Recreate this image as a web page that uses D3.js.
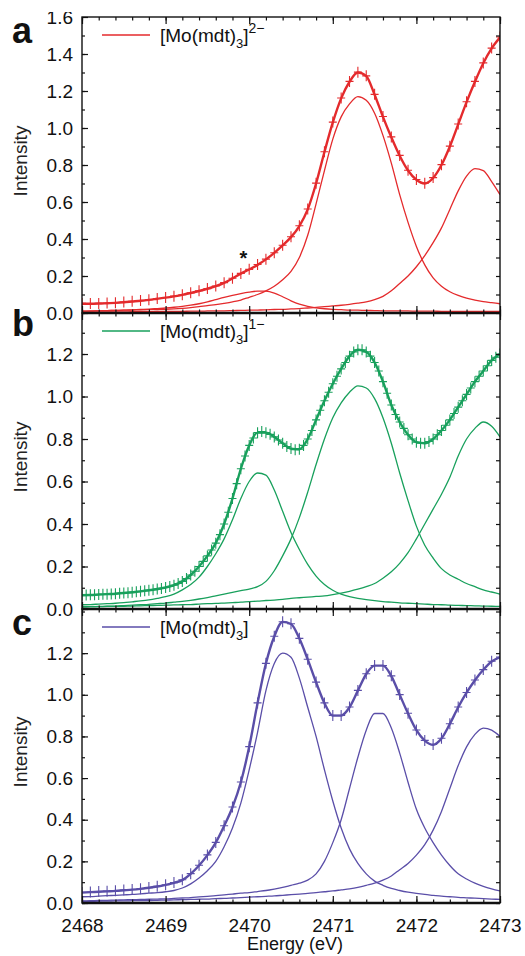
<!DOCTYPE html>
<html>
<head>
<meta charset="utf-8">
<script src="https://cdn.jsdelivr.net/npm/d3@7"></script>
<style>
  body { margin: 0; background: #fff; }
  svg { display: block; font-family: "Liberation Sans", Arial, sans-serif; }
</style>
</head>
<body>
<div id="viz"></div>
<script>
// ---- data ----
// energy grid of the fit curves and of the markers in panels a and c (eV)
const energy = [
  2468.0, 2468.1, 2468.2, 2468.3, 2468.4, 2468.5, 2468.6, 2468.7, 2468.8, 2468.9,
  2469.0, 2469.1, 2469.2, 2469.3, 2469.4, 2469.5, 2469.6, 2469.7, 2469.8, 2469.9,
  2470.0, 2470.1, 2470.2, 2470.3, 2470.4, 2470.5, 2470.6, 2470.7, 2470.8, 2470.9,
  2471.0, 2471.1, 2471.2, 2471.3, 2471.4, 2471.5, 2471.6, 2471.7, 2471.8, 2471.9,
  2472.0, 2472.1, 2472.2, 2472.3, 2472.4, 2472.5, 2472.6, 2472.7, 2472.8, 2472.9,
  2473.0
];
// finer grid of the (dense) markers in panel b
const energyFine = [
  2468.00, 2468.05, 2468.10, 2468.15, 2468.20, 2468.25, 2468.30, 2468.35, 2468.40, 2468.45,
  2468.50, 2468.55, 2468.60, 2468.65, 2468.70, 2468.75, 2468.80, 2468.85, 2468.90, 2468.95,
  2469.00, 2469.05, 2469.10, 2469.15, 2469.20, 2469.25, 2469.30, 2469.35, 2469.40, 2469.45,
  2469.50, 2469.55, 2469.60, 2469.65, 2469.70, 2469.75, 2469.80, 2469.85, 2469.90, 2469.95,
  2470.00, 2470.05, 2470.10, 2470.15, 2470.20, 2470.25, 2470.30, 2470.35, 2470.40, 2470.45,
  2470.50, 2470.55, 2470.60, 2470.65, 2470.70, 2470.75, 2470.80, 2470.85, 2470.90, 2470.95,
  2471.00, 2471.05, 2471.10, 2471.15, 2471.20, 2471.25, 2471.30, 2471.35, 2471.40, 2471.45,
  2471.50, 2471.55, 2471.60, 2471.65, 2471.70, 2471.75, 2471.80, 2471.85, 2471.90, 2471.95,
  2472.00, 2472.05, 2472.10, 2472.15, 2472.20, 2472.25, 2472.30, 2472.35, 2472.40, 2472.45,
  2472.50, 2472.55, 2472.60, 2472.65, 2472.70, 2472.75, 2472.80, 2472.85, 2472.90, 2472.95,
  2473.00
];

// panel a : [Mo(mdt)3]2-
const dataA = [
  0.052, 0.051, 0.052, 0.054, 0.056, 0.059, 0.063, 0.067, 0.072, 0.078,
  0.084, 0.091, 0.099, 0.109, 0.120, 0.132, 0.146, 0.164, 0.188, 0.214,
  0.236, 0.262, 0.291, 0.326, 0.366, 0.412, 0.472, 0.562, 0.702, 0.872,
  1.032, 1.162, 1.252, 1.302, 1.282, 1.182, 1.062, 0.952, 0.852, 0.772,
  0.722, 0.702, 0.732, 0.802, 0.902, 1.022, 1.142, 1.252, 1.352, 1.432,
  1.492
];
const fitA = [
  0.050, 0.050, 0.051, 0.053, 0.055, 0.058, 0.062, 0.066, 0.071, 0.077,
  0.083, 0.090, 0.098, 0.108, 0.119, 0.131, 0.145, 0.163, 0.187, 0.213,
  0.235, 0.260, 0.290, 0.325, 0.365, 0.410, 0.470, 0.560, 0.700, 0.870,
  1.030, 1.160, 1.250, 1.300, 1.280, 1.180, 1.060, 0.950, 0.850, 0.770,
  0.720, 0.700, 0.730, 0.800, 0.900, 1.020, 1.140, 1.250, 1.350, 1.430,
  1.490
];
const peakA1 = [
  0.010, 0.010, 0.012, 0.013, 0.014, 0.015, 0.017, 0.019, 0.021, 0.024,
  0.027, 0.031, 0.036, 0.042, 0.050, 0.060, 0.072, 0.084, 0.095, 0.105,
  0.113, 0.118, 0.118, 0.108, 0.088, 0.066, 0.048, 0.036, 0.028, 0.023,
  0.020, 0.018, 0.016, 0.015, 0.014, 0.013, 0.012, 0.012, 0.011, 0.011,
  0.010, 0.010, 0.010, 0.009, 0.009, 0.009, 0.008, 0.008, 0.008, 0.008,
  0.008
];
const peakA2 = [
  0.010, 0.011, 0.012, 0.013, 0.014, 0.015, 0.016, 0.017, 0.018, 0.019,
  0.020, 0.022, 0.025, 0.029, 0.034, 0.040, 0.045, 0.052, 0.060, 0.070,
  0.085, 0.100, 0.120, 0.145, 0.180, 0.225, 0.300, 0.420, 0.590, 0.770,
  0.940, 1.060, 1.130, 1.170, 1.150, 1.080, 0.960, 0.810, 0.640, 0.490,
  0.360, 0.260, 0.190, 0.145, 0.115, 0.095, 0.080, 0.070, 0.062, 0.056,
  0.050
];
const peakA3 = [
  0.005, 0.005, 0.005, 0.006, 0.006, 0.006, 0.007, 0.007, 0.007, 0.008,
  0.008, 0.009, 0.009, 0.010, 0.010, 0.011, 0.012, 0.012, 0.013, 0.014,
  0.015, 0.016, 0.017, 0.019, 0.020, 0.022, 0.024, 0.027, 0.030, 0.034,
  0.038, 0.042, 0.047, 0.053, 0.060, 0.072, 0.090, 0.120, 0.160, 0.200,
  0.250, 0.310, 0.380, 0.460, 0.560, 0.660, 0.740, 0.780, 0.770, 0.710,
  0.640
];

// panel b : [Mo(mdt)3]1-
const dataB = [
  0.066, 0.066, 0.067, 0.067, 0.068, 0.069, 0.070, 0.071, 0.072, 0.074,
  0.075, 0.077, 0.079, 0.081, 0.083, 0.086, 0.088, 0.091, 0.094, 0.097,
  0.101, 0.106, 0.112, 0.120, 0.130, 0.143, 0.160, 0.178, 0.200, 0.224,
  0.250, 0.278, 0.310, 0.350, 0.400, 0.455, 0.520, 0.590, 0.660, 0.720,
  0.770, 0.805, 0.830, 0.835, 0.830, 0.822, 0.810, 0.795, 0.780, 0.765,
  0.755, 0.750, 0.752, 0.770, 0.800, 0.840, 0.890, 0.935, 0.980, 1.020,
  1.060, 1.095, 1.130, 1.160, 1.190, 1.210, 1.220, 1.220, 1.210, 1.190,
  1.160, 1.120, 1.070, 1.015, 0.960, 0.915, 0.880, 0.850, 0.820, 0.800,
  0.785, 0.780, 0.780, 0.788, 0.800, 0.820, 0.840, 0.865, 0.890, 0.920,
  0.950, 0.980, 1.010, 1.040, 1.070, 1.095, 1.120, 1.145, 1.170, 1.185,
  1.200
];
const fitB = [
  0.065, 0.066, 0.068, 0.070, 0.072, 0.075, 0.079, 0.083, 0.088, 0.094,
  0.101, 0.112, 0.130, 0.160, 0.200, 0.250, 0.310, 0.400, 0.520, 0.660,
  0.770, 0.830, 0.830, 0.810, 0.780, 0.755, 0.752, 0.800, 0.890, 0.980,
  1.060, 1.130, 1.190, 1.220, 1.210, 1.160, 1.070, 0.960, 0.880, 0.820,
  0.785, 0.780, 0.800, 0.840, 0.890, 0.950, 1.010, 1.070, 1.120, 1.170,
  1.200
];
const peakB1 = [
  0.020, 0.021, 0.023, 0.025, 0.027, 0.030, 0.034, 0.038, 0.043, 0.050,
  0.058, 0.070, 0.090, 0.115, 0.150, 0.200, 0.260, 0.330, 0.420, 0.520,
  0.600, 0.640, 0.630, 0.560, 0.460, 0.360, 0.280, 0.210, 0.155, 0.115,
  0.088, 0.070, 0.058, 0.050, 0.044, 0.039, 0.035, 0.032, 0.029, 0.027,
  0.025, 0.023, 0.021, 0.020, 0.018, 0.017, 0.016, 0.015, 0.014, 0.013,
  0.012
];
const peakB2 = [
  0.010, 0.011, 0.012, 0.013, 0.014, 0.016, 0.018, 0.020, 0.022, 0.025,
  0.028, 0.032, 0.036, 0.041, 0.047, 0.054, 0.062, 0.070, 0.078, 0.086,
  0.094, 0.105, 0.130, 0.180, 0.250, 0.330, 0.430, 0.550, 0.680, 0.800,
  0.900, 0.970, 1.020, 1.050, 1.040, 0.990, 0.900, 0.780, 0.640, 0.510,
  0.390, 0.300, 0.240, 0.190, 0.160, 0.140, 0.120, 0.105, 0.090, 0.080,
  0.070
];
const peakB3 = [
  0.010, 0.011, 0.011, 0.012, 0.012, 0.013, 0.014, 0.015, 0.016, 0.017,
  0.018, 0.019, 0.020, 0.021, 0.023, 0.025, 0.026, 0.028, 0.030, 0.032,
  0.035, 0.037, 0.040, 0.042, 0.045, 0.050, 0.053, 0.056, 0.059, 0.062,
  0.068, 0.075, 0.083, 0.093, 0.105, 0.120, 0.145, 0.175, 0.215, 0.265,
  0.330, 0.400, 0.470, 0.540, 0.620, 0.720, 0.800, 0.850, 0.880, 0.860,
  0.810
];

// panel c : [Mo(mdt)3]
const dataC = [
  0.051, 0.053, 0.055, 0.057, 0.059, 0.062, 0.065, 0.069, 0.074, 0.080,
  0.088, 0.098, 0.112, 0.141, 0.181, 0.231, 0.291, 0.371, 0.461, 0.581,
  0.751, 0.961, 1.151, 1.281, 1.351, 1.341, 1.271, 1.171, 1.061, 0.961,
  0.901, 0.901, 0.941, 1.021, 1.101, 1.141, 1.141, 1.091, 1.001, 0.911,
  0.831, 0.781, 0.761, 0.791, 0.861, 0.941, 1.011, 1.071, 1.121, 1.161,
  1.181
];
const fitC = [
  0.050, 0.052, 0.054, 0.056, 0.058, 0.061, 0.064, 0.068, 0.073, 0.079,
  0.087, 0.097, 0.110, 0.140, 0.180, 0.230, 0.290, 0.370, 0.460, 0.580,
  0.750, 0.960, 1.150, 1.280, 1.350, 1.340, 1.270, 1.170, 1.060, 0.960,
  0.900, 0.900, 0.940, 1.020, 1.100, 1.140, 1.140, 1.090, 1.000, 0.910,
  0.830, 0.780, 0.760, 0.790, 0.860, 0.940, 1.010, 1.070, 1.120, 1.160,
  1.180
];
const peakC1 = [
  0.030, 0.031, 0.033, 0.035, 0.037, 0.039, 0.041, 0.044, 0.047, 0.050,
  0.054, 0.060, 0.072, 0.092, 0.120, 0.155, 0.200, 0.270, 0.360, 0.480,
  0.640, 0.820, 1.020, 1.150, 1.200, 1.180, 1.080, 0.940, 0.800, 0.640,
  0.490, 0.360, 0.260, 0.190, 0.140, 0.105, 0.085, 0.070, 0.060, 0.052,
  0.046, 0.041, 0.037, 0.033, 0.030, 0.027, 0.025, 0.023, 0.021, 0.019,
  0.017
];
const peakC2 = [
  0.010, 0.011, 0.012, 0.013, 0.014, 0.015, 0.016, 0.017, 0.018, 0.019,
  0.020, 0.022, 0.024, 0.026, 0.029, 0.032, 0.035, 0.039, 0.043, 0.047,
  0.050, 0.055, 0.060, 0.067, 0.075, 0.085, 0.095, 0.110, 0.140, 0.200,
  0.290, 0.400, 0.550, 0.700, 0.830, 0.910, 0.910, 0.840, 0.720, 0.580,
  0.450, 0.360, 0.290, 0.230, 0.180, 0.140, 0.115, 0.095, 0.080, 0.068,
  0.058
];
const peakC3 = [
  0.008, 0.008, 0.009, 0.009, 0.010, 0.010, 0.011, 0.012, 0.012, 0.013,
  0.014, 0.015, 0.016, 0.017, 0.018, 0.019, 0.021, 0.022, 0.024, 0.026,
  0.028, 0.030, 0.032, 0.034, 0.037, 0.040, 0.043, 0.046, 0.050, 0.054,
  0.058, 0.063, 0.068, 0.075, 0.085, 0.095, 0.110, 0.130, 0.160, 0.190,
  0.230, 0.280, 0.350, 0.440, 0.550, 0.660, 0.750, 0.810, 0.840, 0.830,
  0.800
];

// tick labels
const xTicks = [2468, 2469, 2470, 2471, 2472, 2473];
const yTicksA = [0, 0.2, 0.4, 0.6, 0.8, 1.0, 1.2, 1.4, 1.6];
const yTicksBC = [0, 0.2, 0.4, 0.6, 0.8, 1.0, 1.2];

// the starred point in panel a
const starA = { e: 2469.93, v: 0.31 };

// ---- layout ----
const width = 525, height = 956;
const left = 82, right = 500;

const panels = [
  { letter: "a", top: 17, bottom: 313, yMax: 1.6, ticks: yTicksA, color: "#e42a2c", letterDy: 26,
    charge: "2\u2212", mx: energy, my: dataA, fit: fitA, parts: [peakA1, peakA2, peakA3] },
  { letter: "b", top: 313, bottom: 609, yMax: 1.393, ticks: yTicksBC, color: "#18a05c", letterDy: 23,
    charge: "1\u2212", mx: energyFine, my: dataB, fit: fitB, parts: [peakB1, peakB2, peakB3] },
  { letter: "c", top: 609, bottom: 903, yMax: 1.412, ticks: yTicksBC, color: "#5a4ea8", letterDy: 26,
    charge: null, mx: energy, my: dataC, fit: fitC, parts: [peakC1, peakC2, peakC3] }
];

const svg = d3.select("#viz").append("svg")
  .attr("width", width)
  .attr("height", height);

// whole figure is cut a little below the top edge (like the scan)
svg.append("clipPath").attr("id", "page")
  .append("rect").attr("x", 0).attr("y", 12).attr("width", width).attr("height", height - 12);

const page = svg.append("g").attr("clip-path", "url(#page)");

const x = d3.scaleLinear().domain([2468, 2473]).range([left, right]);
const xMinor = d3.range(2468, 2473.001, 0.2);

panels.forEach((p, i) => {
  const y = d3.scaleLinear().domain([0, p.yMax]).range([p.bottom, p.top]);
  const yMinor = d3.range(0, p.yMax, 0.1);
  const g = page.append("g");

  // clip for data
  const clipId = "clip-" + p.letter;
  g.append("clipPath").attr("id", clipId)
    .append("rect")
    .attr("x", left).attr("y", p.top)
    .attr("width", right - left).attr("height", p.bottom - p.top);

  const plot = g.append("g").attr("clip-path", `url(#${clipId})`);

  const line = d3.line()
    .x((d, k) => x(energy[k]))
    .y(d => y(d))
    .curve(d3.curveMonotoneX);

  // component peaks (thin)
  plot.selectAll(".part")
    .data(p.parts)
    .join("path")
    .attr("class", "part")
    .attr("d", d => line(d))
    .attr("fill", "none")
    .attr("stroke", p.color)
    .attr("stroke-width", 1.3);

  // total fit (thick)
  plot.append("path")
    .attr("d", line(p.fit))
    .attr("fill", "none")
    .attr("stroke", p.color)
    .attr("stroke-width", 2.4);

  // data markers (+)
  plot.selectAll(".mark")
    .data(p.my)
    .join("path")
    .attr("class", "mark")
    .attr("transform", (d, k) => `translate(${x(p.mx[k])},${y(d)})`)
    .attr("d", "M-4,0H4M0,-5.5V5.5")
    .attr("stroke", p.color)
    .attr("stroke-width", 1.1);

  // axes: inward ticks on all four sides
  const axisStyle = sel => {
    sel.select(".domain").remove();
    sel.selectAll("text")
      .attr("fill", "#111")
      .style("font-size", "19px");
    sel.selectAll("line").attr("stroke", "#111").attr("stroke-width", 1.2);
  };

  g.append("g").attr("transform", `translate(${left},0)`)
    .call(d3.axisLeft(y).tickValues(p.ticks).tickSize(-6).tickPadding(9)
      .tickFormat(d3.format(".1f")))
    .call(axisStyle);
  g.append("g").attr("transform", `translate(${left},0)`)
    .call(d3.axisLeft(y).tickValues(yMinor).tickSize(-3).tickFormat(""))
    .call(axisStyle);
  g.append("g").attr("transform", `translate(${right},0)`)
    .call(d3.axisRight(y).tickValues(yMinor).tickSize(-4).tickFormat(""))
    .call(axisStyle);

  const lastPanel = i === panels.length - 1;
  g.append("g").attr("transform", `translate(0,${p.bottom})`)
    .call(d3.axisBottom(x).tickValues(xTicks).tickSize(-7).tickPadding(16)
      .tickFormat(lastPanel ? d3.format("d") : ""))
    .call(axisStyle);
  g.append("g").attr("transform", `translate(0,${p.bottom})`)
    .call(d3.axisBottom(x).tickValues(xMinor).tickSize(-3.5).tickFormat(""))
    .call(axisStyle);
  g.append("g").attr("transform", `translate(0,${p.top})`)
    .call(d3.axisTop(x).tickValues(xTicks).tickSize(-7).tickFormat(""))
    .call(axisStyle);
  g.append("g").attr("transform", `translate(0,${p.top})`)
    .call(d3.axisTop(x).tickValues(xMinor).tickSize(-3.5).tickFormat(""))
    .call(axisStyle);

  // frame
  g.append("rect")
    .attr("x", left).attr("y", p.top)
    .attr("width", right - left).attr("height", p.bottom - p.top)
    .attr("fill", "none")
    .attr("stroke", "#111")
    .attr("stroke-width", 1.4);
  g.append("line")
    .attr("x1", left).attr("x2", right)
    .attr("y1", p.bottom).attr("y2", p.bottom)
    .attr("stroke", "#111")
    .attr("stroke-width", 2.6);

  // y label
  g.append("text")
    .attr("transform", `translate(27,${(p.top + p.bottom) / 2 - 4}) rotate(-90)`)
    .attr("text-anchor", "middle")
    .attr("fill", "#222")
    .style("font-size", "19px")
    .text("Intensity");

  // panel letter
  g.append("text")
    .attr("x", 12)
    .attr("y", p.top + p.letterDy)
    .attr("fill", "#111")
    .style("font-size", "36px")
    .style("font-weight", "bold")
    .text(p.letter);

  // legend
  const ly = p.top + 18;
  g.append("line")
    .attr("x1", 102).attr("x2", 150)
    .attr("y1", ly).attr("y2", ly)
    .attr("stroke", p.color)
    .attr("stroke-width", 1.4);
  const lt = g.append("text")
    .attr("x", 160).attr("y", ly + 7)
    .attr("fill", "#111")
    .style("font-size", "19px");
  lt.append("tspan").text("[Mo(mdt)");
  lt.append("tspan").attr("dy", 6).style("font-size", "13px").text("3");
  lt.append("tspan").attr("dy", -6).text("]");
  if (p.charge) {
    lt.append("tspan").attr("dy", -9).style("font-size", "14px").text(p.charge);
  }

  if (p.letter === "a") {
    g.append("text")
      .attr("x", x(starA.e)).attr("y", y(starA.v) + 9)
      .attr("text-anchor", "middle")
      .attr("fill", "#111")
      .style("font-size", "20px")
      .style("font-weight", "bold")
      .text("*");
  }
});

// x axis title
page.append("text")
  .attr("x", (left + right) / 2 + 4)
  .attr("y", 950)
  .attr("text-anchor", "middle")
  .attr("fill", "#111")
  .style("font-size", "18px")
  .text("Energy (eV)");
</script>
</body>
</html>
